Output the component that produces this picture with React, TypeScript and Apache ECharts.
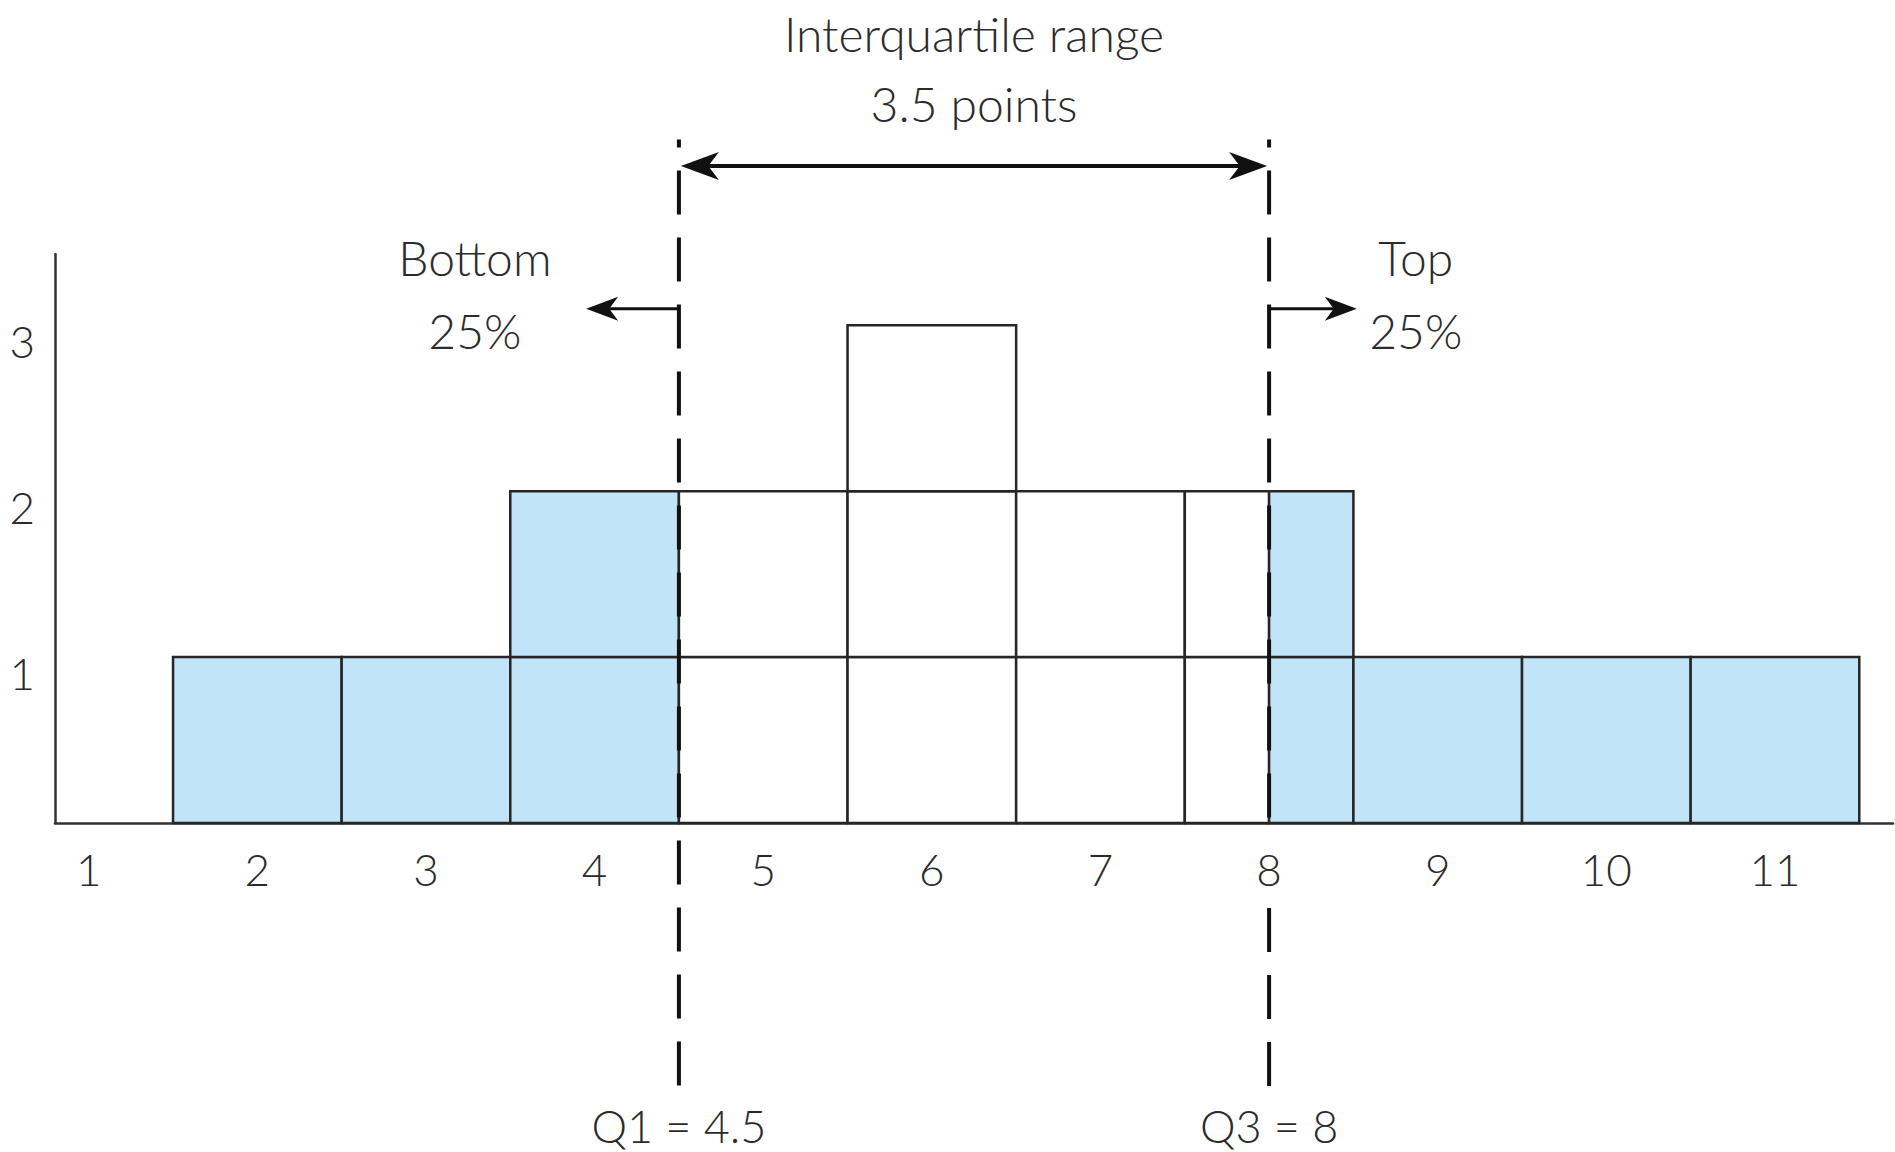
import React, { useEffect, useRef } from "react";
import * as echarts from "echarts";

// ---- data ----
const scores = [2, 3, 4, 5, 6, 7, 8, 9, 10, 11];
const counts = [1, 1, 2, 2, 3, 2, 2, 1, 1, 1];
const xTickValues = [1, 2, 3, 4, 5, 6, 7, 8, 9, 10, 11];
const yTickValues = [1, 2, 3];
const Q1 = 4.5;
const Q3 = 8;
const iqrTitle = "Interquartile range";
const iqrValueText = `${Q3 - Q1} points`;
const bottomText = "Bottom";
const topText = "Top";
const pctText = "25%";
const q1Text = `Q1 = ${Q1}`;
const q3Text = `Q3 = ${Q3}`;

// ---- layout (data-space positions of annotations) ----
const layout = {
  xMin: 0.8,
  xMax: 11.7,
  yMax: 3.43,
  dashTop: 4.12,
  dashBottom: -1.63,
  labelGapBottom: -0.41,
  iqrTitleY: 4.76,
  iqrValueY: 4.34,
  iqrArrowY: 3.96,
  sideArrowY: 3.1,
  sideTitleY: 3.41,
  sidePctY: 2.97,
  leftArrowTip: 3.95,
  rightArrowTip: 8.52,
  leftTextX: 3.29,
  rightTextX: 8.87,
  qLabelBottomY: -1.96,
};

const FONT = 'Lato, "Noto Sans", "DejaVu Sans", sans-serif';
const TEXT_COLOR = "#2b2b2b";
const BLUE = "#c2e4f8";
const STROKE = "#262626";
const DASH = [44, 23];
const DASH_PERIOD = DASH[0] + DASH[1];

function buildCells() {
  const cells: number[][] = [];
  scores.forEach((s, i) => {
    for (let k = 0; k < counts[i]; k++) {
      const lo = s - 0.5;
      const hi = s + 0.5;
      const cuts = [lo, ...[Q1, Q3].filter((q) => q > lo && q < hi), hi];
      for (let j = 0; j < cuts.length - 1; j++) {
        const a = cuts[j];
        const b = cuts[j + 1];
        const inside = a >= Q1 && b <= Q3 ? 1 : 0;
        cells.push([a, b, k, k + 1, inside]);
      }
    }
  });
  return cells;
}

export default function App() {
  const ref = useRef<HTMLDivElement>(null);

  useEffect(() => {
    if (!ref.current) return;
    const chart = echarts.init(ref.current, null, { renderer: "svg" });
    const cells = buildCells();

    chart.setOption({
      animation: false,
      backgroundColor: "#ffffff",
      grid: { left: 55, right: 2, top: 254, bottom: 329, containLabel: false },
      xAxis: {
        type: "value",
        min: layout.xMin,
        max: layout.xMax,
        splitLine: { show: false },
        axisTick: { show: false },
        axisLine: { show: true, lineStyle: { color: "#333", width: 2.5 } },
        axisLabel: {
          customValues: xTickValues,
          color: TEXT_COLOR,
          fontFamily: FONT,
          fontWeight: 300,
          fontSize: 44,
          margin: 24,
          formatter: (v: number) => String(v),
        },
      },
      yAxis: {
        type: "value",
        min: 0,
        max: layout.yMax,
        splitLine: { show: false },
        axisTick: { show: false },
        axisLine: { show: true, onZero: false, lineStyle: { color: "#333", width: 2.5 } },
        axisLabel: {
          customValues: yTickValues,
          color: TEXT_COLOR,
          fontFamily: FONT,
          fontWeight: 300,
          fontSize: 44,
          margin: 20,
          verticalAlign: "top",
          lineHeight: 32,
          formatter: (v: number) => String(v),
        },
      },
      series: [
        {
          type: "custom",
          data: cells,
          encode: { x: [0, 1], y: [2, 3] },
          renderItem: (params: any, api: any) => {
            const p0 = api.coord([api.value(0), api.value(3)]);
            const p1 = api.coord([api.value(1), api.value(2)]);
            const inside = api.value(4) === 1;
            return {
              type: "rect",
              shape: { x: p0[0], y: p0[1], width: p1[0] - p0[0], height: p1[1] - p0[1] },
              style: { fill: inside ? "#ffffff" : BLUE, stroke: STROKE, lineWidth: 2.5 },
            };
          },
          z: 2,
        },
      ],
    });

    const px = (x: number, y: number) => chart.convertToPixel({ gridIndex: 0 }, [x, y]) as number[];

    const arrowHead = (tipX: number, tipY: number, dir: number, len: number, half: number) => ({
      type: "polygon",
      z: 20,
      shape: {
        points: [
          [tipX, tipY],
          [tipX - dir * len, tipY - half],
          [tipX - dir * len * 0.72, tipY],
          [tipX - dir * len, tipY + half],
        ],
      },
      style: { fill: "#111" },
    });

    const text = (s: string, x: number, y: number, size = 48, vAlign = "middle") => {
      const p = px(x, y);
      return {
        type: "text",
        z: 20,
        x: p[0],
        y: p[1],
        style: {
          text: s,
          font: `300 ${size}px ${FONT}`,
          fill: TEXT_COLOR,
          align: "center",
          verticalAlign: vAlign,
          textAlign: "center",
          textVerticalAlign: vAlign,
        },
      };
    };

    const elements: any[] = [];
    const dashSeg = (x: number, y1: number, y2: number, top: number) => ({
      type: "line",
      z: 15,
      shape: { x1: x, y1, x2: x, y2 },
      style: {
        stroke: "#111",
        lineWidth: 4,
        lineDash: DASH,
        lineDashOffset: (36 + (y1 - top)) % DASH_PERIOD,
      },
    });
    [Q1, Q3].forEach((q) => {
      const a = px(q, layout.dashTop);
      const b = px(q, layout.dashBottom);
      const hasLabel = xTickValues.includes(q);
      if (hasLabel) {
        const axisY = px(q, 0)[1];
        const gapEnd = px(q, layout.labelGapBottom)[1];
        elements.push(dashSeg(a[0], a[1], axisY, a[1]));
        elements.push(dashSeg(a[0], gapEnd, b[1], a[1]));
      } else {
        elements.push(dashSeg(a[0], a[1], b[1], a[1]));
      }
    });

    // double arrow
    const da = px(Q1, layout.iqrArrowY);
    const db = px(Q3, layout.iqrArrowY);
    elements.push({
      type: "line",
      z: 20,
      shape: { x1: da[0] + 20, y1: da[1], x2: db[0] - 20, y2: db[1] },
      style: { stroke: "#111", lineWidth: 4 },
    });
    elements.push(arrowHead(da[0] + 2, da[1], -1, 38, 14));
    elements.push(arrowHead(db[0] - 2, db[1], 1, 38, 14));

    // side arrows
    const la = px(Q1, layout.sideArrowY);
    const lt = px(layout.leftArrowTip, layout.sideArrowY);
    elements.push({
      type: "line",
      z: 20,
      shape: { x1: la[0], y1: la[1], x2: lt[0] + 15, y2: lt[1] },
      style: { stroke: "#111", lineWidth: 3 },
    });
    elements.push(arrowHead(lt[0], lt[1], -1, 32, 12));
    const ra = px(Q3, layout.sideArrowY);
    const rt = px(layout.rightArrowTip, layout.sideArrowY);
    elements.push({
      type: "line",
      z: 20,
      shape: { x1: ra[0], y1: ra[1], x2: rt[0] - 15, y2: rt[1] },
      style: { stroke: "#111", lineWidth: 3 },
    });
    elements.push(arrowHead(rt[0], rt[1], 1, 32, 12));

    const mid = (Q1 + Q3) / 2;
    elements.push(text(iqrTitle, mid, layout.iqrTitleY));
    elements.push(text(iqrValueText, mid, layout.iqrValueY));
    elements.push(text(bottomText, layout.leftTextX, layout.sideTitleY));
    elements.push(text(pctText, layout.leftTextX, layout.sidePctY));
    elements.push(text(topText, layout.rightTextX, layout.sideTitleY));
    elements.push(text(pctText, layout.rightTextX, layout.sidePctY));
    elements.push(text(q1Text, Q1, layout.qLabelBottomY, 45, "bottom"));
    elements.push(text(q3Text, Q3, layout.qLabelBottomY, 45, "bottom"));

    chart.setOption({ graphic: { elements } });

    return () => chart.dispose();
  }, []);

  return (
    <div
      ref={ref}
      style={{ position: "absolute", left: 0, top: 0, width: 1895, height: 1152, background: "#fff" }}
    />
  );
}
